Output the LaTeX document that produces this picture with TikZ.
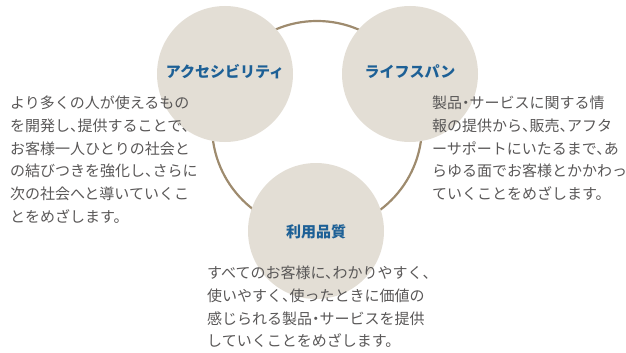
\documentclass[tikz,border=0pt]{standalone}
\usepackage{fontspec}
\setmainfont{Noto Sans CJK JP}
\newfontfamily\halffont[CharacterWidth=AlternateHalf]{Noto Sans CJK JP}
\usetikzlibrary{positioning}
\definecolor{ring}{HTML}{9E8B6E}
\definecolor{disc}{HTML}{E3DED5}
\definecolor{title}{HTML}{1D6096}
\definecolor{body}{HTML}{595757}
\tikzset{loop/.style={draw=ring, line width=2.2pt}, topic/.style={circle, fill=disc, minimum size=136pt, inner sep=0pt}, head/.style={font=\fontsize{15}{18}\selectfont\bfseries, text=title}, desc/.style={font=\halffont\fontsize{15}{22.7}\selectfont, text=body, align=left, inner sep=0pt, anchor=north west}}
\begin{document}
\begin{tikzpicture}[x=1pt,y=-1pt]
\useasboundingbox (0,0) rectangle (626,353);
\coordinate (mid) at (317,126);
\draw[loop] (mid) circle (105);
\node[topic] (acc) at (225,74) {};
\node[topic] (life) at (410,74) {};
\node[topic] (use) at (316,231) {};
\node[head] (acct) at (225,72) {アクセシビリティ};
\node[head] (lifet) at (410,72) {ライフスパン};
\node[head] (uset) at (316,232) {利用品質};
\node[desc] (accd) at (10,96) {より多くの人が使えるもの\\を開発し、提供することで、\\お客様一人ひとりの社会と\\の結びつきを強化し、さらに\\次の社会へと導いていくこ\\とをめざします。};
\node[desc] (lifed) at (432,96) {製品・サービスに関する情\\報の提供から、販売、アフタ\\ーサポートにいたるまで、あ\\らゆる面でお客様とかかわっ\\ていくことをめざします。};
\node[desc] (used) at (207,266) {すべてのお客様に、わかりやすく、\\使いやすく、使ったときに価値の\\感じられる製品・サービスを提供\\していくことをめざします。};
\end{tikzpicture}
\end{document}
